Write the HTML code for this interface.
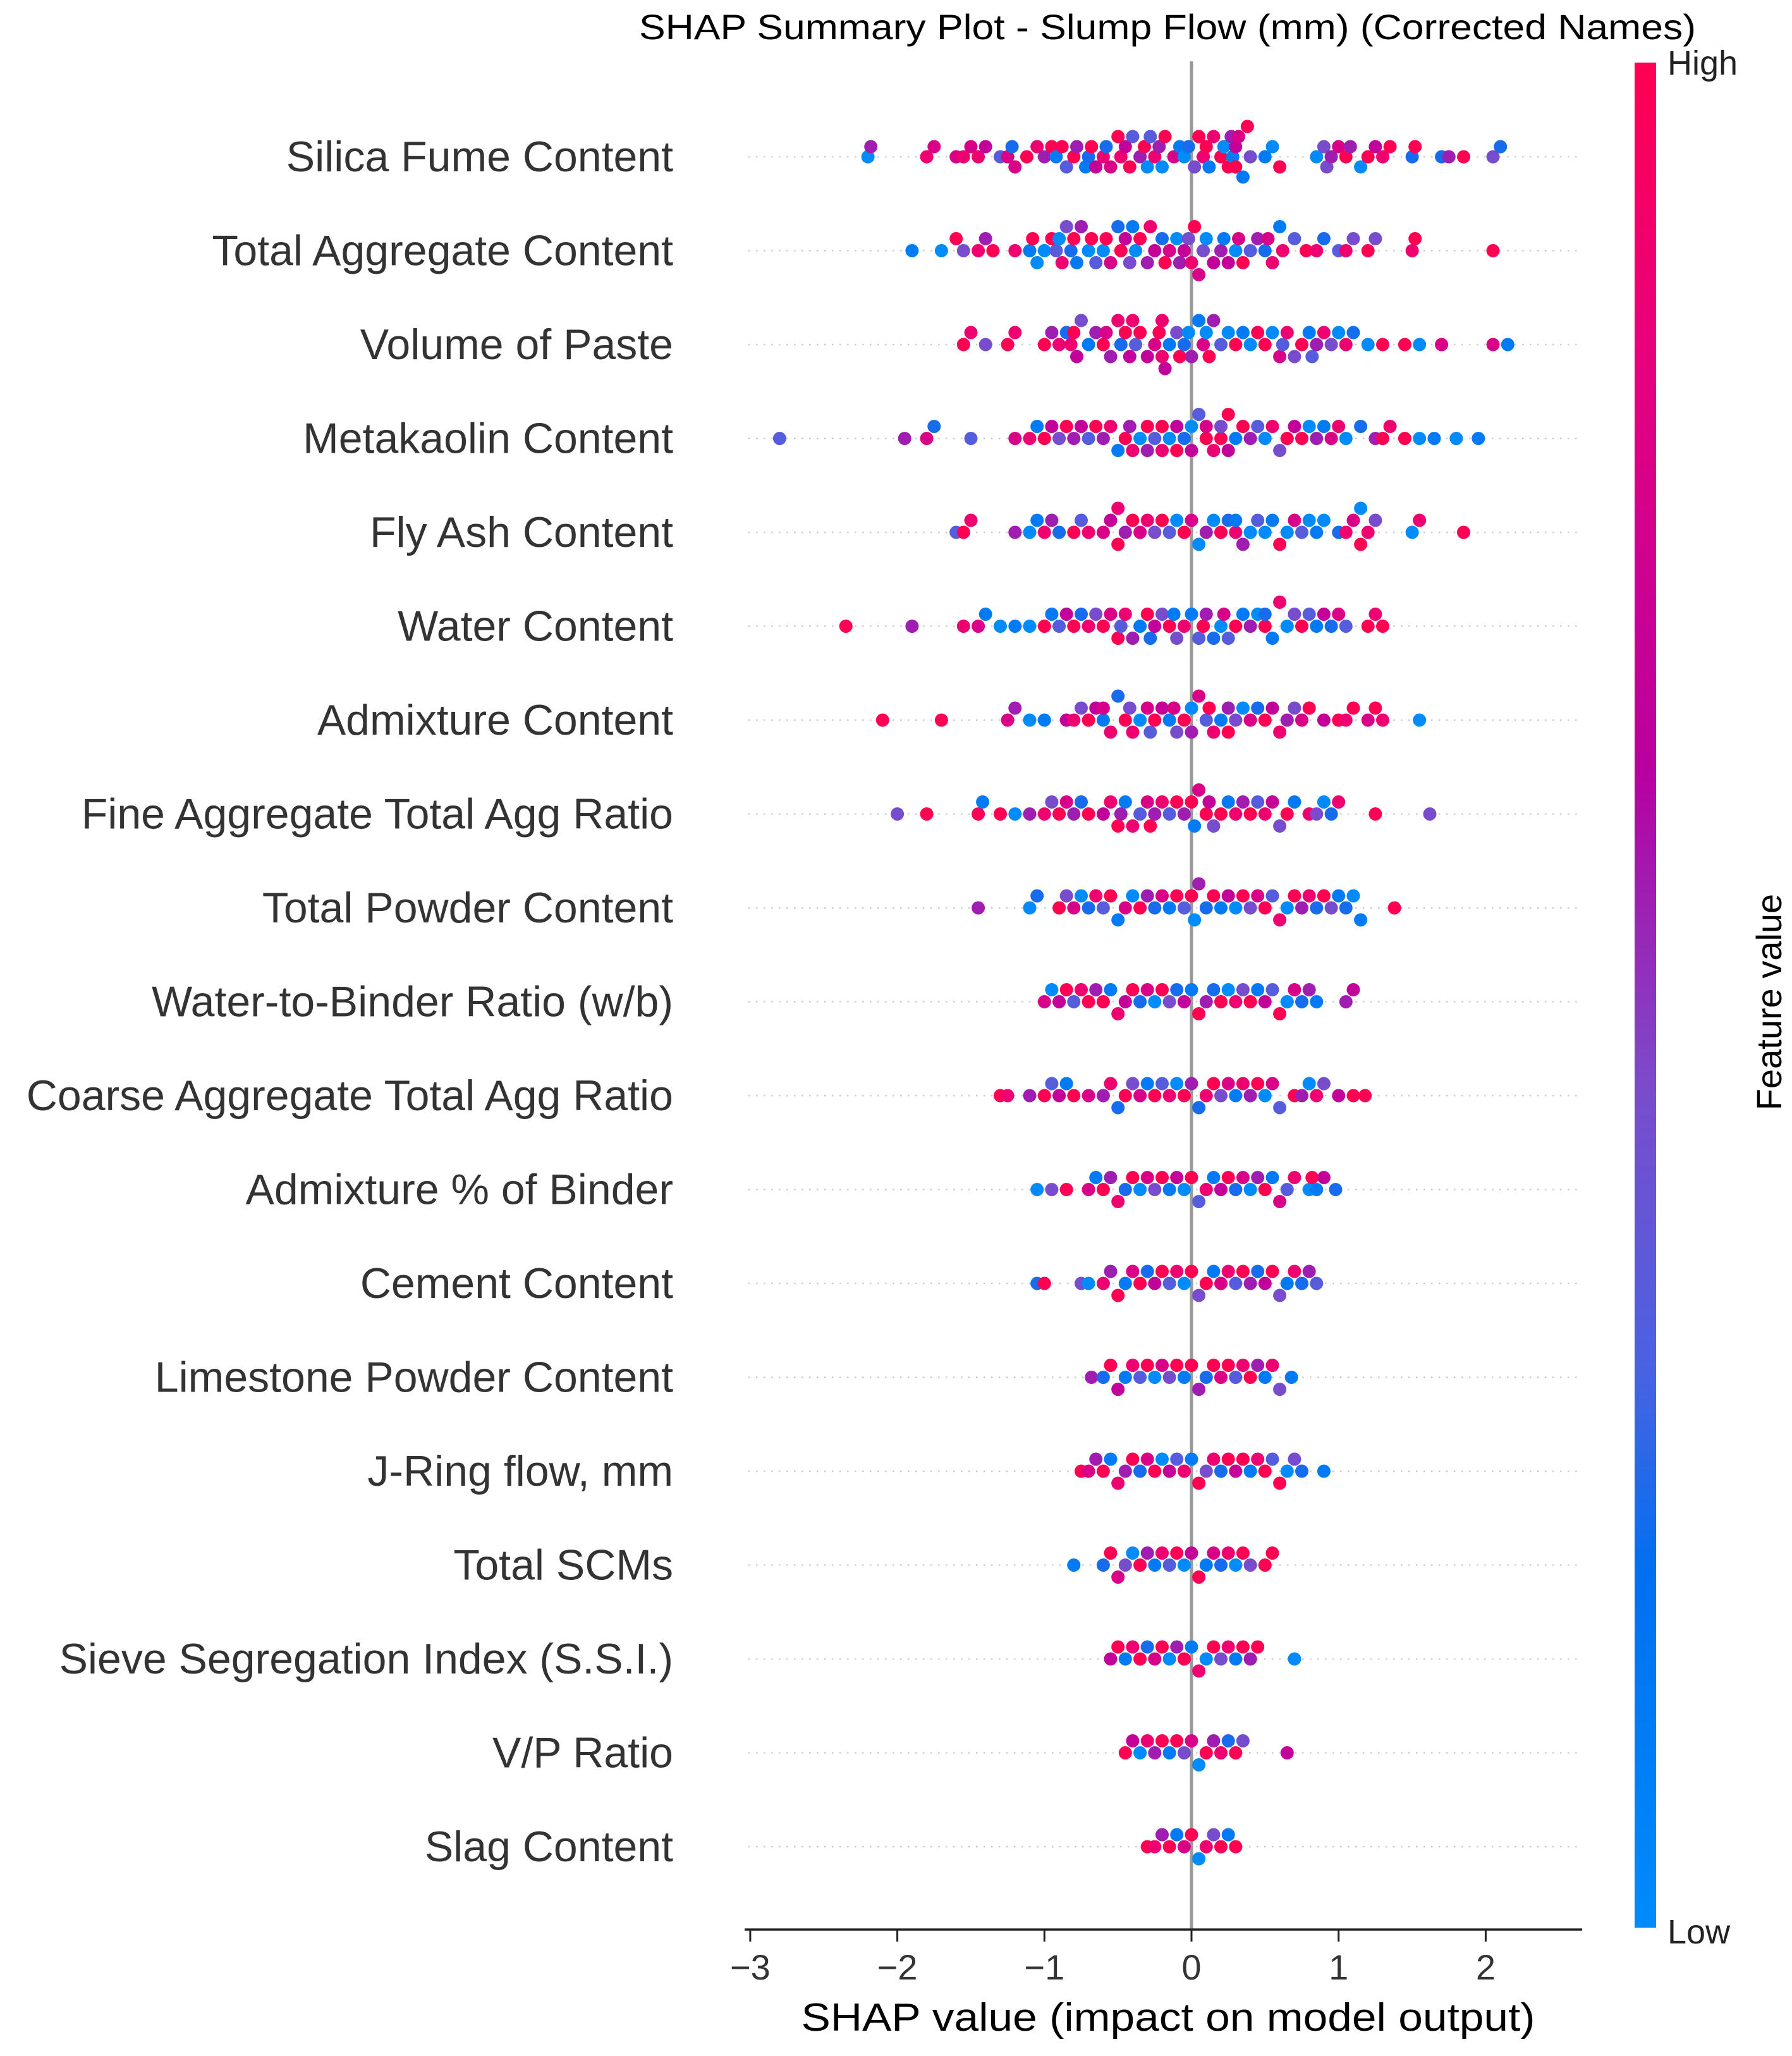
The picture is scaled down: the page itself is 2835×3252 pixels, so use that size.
<!DOCTYPE html>
<html><head><meta charset="utf-8"><style>
html,body{margin:0;padding:0;background:#fff;}
svg{display:block;font-family:"Liberation Sans","DejaVu Sans",sans-serif;}
</style></head><body>
<svg id="chart" width="2835" height="3252" viewBox="0 0 2835 3252" xmlns="http://www.w3.org/2000/svg">
<defs>
<linearGradient id="cbar" x1="0" y1="1" x2="0" y2="0">
<stop offset="0" stop-color="#008bfb"/><stop offset="0.19" stop-color="#0070f0"/><stop offset="0.3" stop-color="#4a62e2"/><stop offset="0.45" stop-color="#7a4ccc"/><stop offset="0.62" stop-color="#b800a0"/><stop offset="0.85" stop-color="#e8007c"/><stop offset="1" stop-color="#ff0052"/>
</linearGradient>
</defs>
<text x="1847" y="62" font-size="56" text-anchor="middle" fill="#000" textLength="1672" lengthAdjust="spacingAndGlyphs">SHAP Summary Plot - Slump Flow (mm) (Corrected Names)</text>
<g id="rowlines"></g>
<line x1="1885" y1="97" x2="1885" y2="3052" stroke="#999" stroke-width="5"/>
<g id="dots"></g>
<g id="labels"></g>
<g id="xaxis"></g>
<text x="1848" y="3212" font-size="62" text-anchor="middle" fill="#000" textLength="1161" lengthAdjust="spacingAndGlyphs">SHAP value (impact on model output)</text>
<rect x="2586" y="99" width="34" height="2950" fill="url(#cbar)"/>
<text x="2638" y="118" font-size="54" fill="#222">High</text>
<text x="2638" y="3074" font-size="54" fill="#222">Low</text>
<text x="0" y="0" font-size="56" fill="#000" text-anchor="middle" transform="translate(2818,1585) rotate(-90)">Feature value</text>
</svg>
<script>
const features = ["Silica Fume Content","Total Aggregate Content","Volume of Paste","Metakaolin Content","Fly Ash Content","Water Content","Admixture Content","Fine Aggregate Total Agg Ratio","Total Powder Content","Water-to-Binder Ratio (w/b)","Coarse Aggregate Total Agg Ratio","Admixture % of Binder","Cement Content","Limestone Powder Content","J-Ring flow, mm","Total SCMs","Sieve Segregation Index (S.S.I.)","V/P Ratio","Slag Content"];
const xTicks = [-3,-2,-1,0,1,2];
const xTickLabels = ["\u22123","\u22122","\u22121","0","1","2"];
// each point: [shap value, feature value 0..9]
const silicaFume = [[-2.2,0],[-2.18,5],[-1.8,8],[-1.75,7],[-1.6,7],[-1.55,8],[-1.5,7],[-1.45,8],[-1.4,6],[-1.3,3],[-1.25,7],[-1.22,2],[-1.2,7],[-1.12,9],[-1.05,8],[-1.0,5],[-0.95,9],[-0.92,1],[-0.88,9],[-0.85,3],[-0.8,9],[-0.78,5],[-0.72,1],[-0.7,2],[-0.68,9],[-0.65,6],[-0.6,8],[-0.58,2],[-0.55,7],[-0.5,9],[-0.48,8],[-0.45,6],[-0.42,9],[-0.4,3],[-0.35,5],[-0.32,9],[-0.3,0],[-0.28,3],[-0.25,8],[-0.22,5],[-0.2,0],[-0.18,9],[-0.12,7],[-0.08,1],[-0.05,0],[-0.02,2],[0.02,4],[0.05,9],[0.08,8],[0.1,9],[0.12,1],[0.15,8],[0.2,9],[0.22,0],[0.25,9],[0.27,5],[0.28,1],[0.3,6],[0.3,9],[0.32,7],[0.35,1],[0.38,9],[0.4,4],[0.5,1],[0.55,0],[0.6,9],[0.85,0],[0.9,4],[0.92,4],[0.95,5],[1.0,7],[1.05,9],[1.08,5],[1.15,0],[1.2,9],[1.25,6],[1.3,8],[1.35,9],[1.5,2],[1.52,9],[1.7,2],[1.75,5],[1.85,9],[2.05,4],[2.1,2]];
const totalAggregate = [[-1.9,1],[-1.7,0],[-1.6,9],[-1.55,4],[-1.45,8],[-1.4,5],[-1.35,9],[-1.2,8],[-1.1,1],[-1.08,9],[-1.05,0],[-1.0,0],[-0.95,9],[-0.92,3],[-0.9,0],[-0.88,8],[-0.85,4],[-0.82,2],[-0.8,9],[-0.78,1],[-0.75,5],[-0.7,0],[-0.68,9],[-0.65,3],[-0.6,0],[-0.58,9],[-0.55,7],[-0.5,2],[-0.48,9],[-0.45,6],[-0.42,4],[-0.4,1],[-0.38,0],[-0.35,9],[-0.3,5],[-0.28,8],[-0.25,6],[-0.2,2],[-0.18,9],[-0.15,7],[-0.1,0],[-0.08,5],[-0.05,6],[-0.02,4],[0,8],[0.02,9],[0.05,7],[0.08,4],[0.1,0],[0.15,6],[0.2,5],[0.22,1],[0.25,6],[0.3,0],[0.32,7],[0.35,9],[0.4,3],[0.45,5],[0.5,2],[0.52,7],[0.55,8],[0.6,1],[0.62,8],[0.7,3],[0.78,9],[0.85,8],[0.9,2],[1.0,3],[1.05,8],[1.1,4],[1.2,9],[1.25,4],[1.5,8],[1.52,9],[2.05,9]];
const volumePaste = [[-1.55,9],[-1.5,8],[-1.4,4],[-1.25,9],[-1.2,8],[-1.0,9],[-0.95,5],[-0.9,8],[-0.85,2],[-0.82,8],[-0.8,9],[-0.78,6],[-0.75,4],[-0.7,1],[-0.65,5],[-0.6,9],[-0.58,7],[-0.55,5],[-0.5,8],[-0.48,2],[-0.45,9],[-0.42,6],[-0.4,8],[-0.38,3],[-0.35,9],[-0.3,6],[-0.25,7],[-0.22,9],[-0.2,8],[-0.2,8],[-0.18,6],[-0.15,1],[-0.1,4],[-0.08,9],[-0.05,2],[-0.02,0],[0,5],[0.05,1],[0.08,7],[0.1,0],[0.12,9],[0.15,5],[0.2,3],[0.25,0],[0.3,9],[0.35,1],[0.4,0],[0.45,9],[0.5,9],[0.55,0],[0.6,7],[0.62,3],[0.65,8],[0.7,4],[0.75,9],[0.8,1],[0.82,3],[0.85,5],[0.9,8],[0.95,4],[1.0,0],[1.05,8],[1.1,2],[1.2,0],[1.3,9],[1.45,9],[1.55,0],[1.7,7],[2.05,7],[2.15,1]];
const metakaolin = [[-2.8,3],[-1.95,5],[-1.8,7],[-1.75,2],[-1.5,3],[-1.2,7],[-1.1,8],[-1.05,1],[-1.0,9],[-0.95,6],[-0.9,4],[-0.85,9],[-0.8,5],[-0.75,6],[-0.7,3],[-0.65,9],[-0.6,5],[-0.55,8],[-0.5,1],[-0.45,9],[-0.42,5],[-0.4,8],[-0.35,0],[-0.3,9],[-0.3,5],[-0.25,3],[-0.2,9],[-0.2,8],[-0.15,0],[-0.1,6],[-0.1,9],[-0.05,2],[0,0],[0,6],[0.05,3],[0.1,9],[0.1,7],[0.15,8],[0.2,9],[0.2,4],[0.25,6],[0.25,9],[0.3,1],[0.35,9],[0.4,5],[0.45,3],[0.5,0],[0.55,8],[0.6,4],[0.65,9],[0.7,6],[0.75,9],[0.8,0],[0.85,5],[0.9,1],[0.95,7],[1.0,8],[1.05,0],[1.15,2],[1.25,5],[1.3,9],[1.35,8],[1.45,9],[1.55,0],[1.65,1],[1.8,0],[1.95,1]];
const flyAsh = [[-1.6,3],[-1.55,9],[-1.5,8],[-1.2,5],[-1.1,0],[-1.05,1],[-1.0,8],[-0.95,5],[-0.9,2],[-0.8,9],[-0.75,3],[-0.7,8],[-0.6,7],[-0.55,6],[-0.5,9],[-0.5,8],[-0.45,5],[-0.4,9],[-0.35,7],[-0.3,8],[-0.25,4],[-0.2,9],[-0.15,3],[-0.1,0],[-0.05,9],[0,7],[0.05,0],[0.1,5],[0.15,0],[0.2,9],[0.25,2],[0.3,8],[0.3,1],[0.35,5],[0.4,0],[0.45,3],[0.5,0],[0.55,1],[0.6,9],[0.65,0],[0.7,7],[0.75,3],[0.8,0],[0.85,1],[0.9,0],[1.0,2],[1.05,8],[1.1,7],[1.15,9],[1.15,0],[1.2,8],[1.25,4],[1.5,0],[1.55,8],[1.85,9]];
const water = [[-2.35,9],[-1.9,5],[-1.55,8],[-1.45,7],[-1.4,1],[-1.3,0],[-1.2,1],[-1.1,0],[-1.0,9],[-0.95,1],[-0.9,3],[-0.85,6],[-0.8,9],[-0.75,2],[-0.7,8],[-0.65,4],[-0.6,9],[-0.55,7],[-0.5,9],[-0.48,3],[-0.45,8],[-0.4,5],[-0.35,1],[-0.3,9],[-0.28,2],[-0.25,6],[-0.2,4],[-0.15,9],[-0.12,1],[-0.1,4],[-0.05,8],[0,1],[0.05,3],[0.08,9],[0.1,5],[0.15,2],[0.2,0],[0.22,7],[0.25,3],[0.3,9],[0.35,1],[0.4,5],[0.45,0],[0.5,9],[0.5,2],[0.55,1],[0.6,8],[0.65,0],[0.7,4],[0.75,9],[0.8,3],[0.85,1],[0.9,6],[0.95,2],[1.0,7],[1.05,3],[1.2,9],[1.25,8],[1.3,9]];
const admixture = [[-2.1,9],[-1.7,9],[-1.25,7],[-1.2,5],[-1.1,0],[-1.0,1],[-0.85,6],[-0.8,8],[-0.75,4],[-0.7,9],[-0.65,6],[-0.6,1],[-0.6,7],[-0.55,8],[-0.5,2],[-0.45,9],[-0.42,4],[-0.4,8],[-0.35,0],[-0.3,7],[-0.28,3],[-0.25,9],[-0.2,6],[-0.15,1],[-0.12,7],[-0.1,4],[-0.05,9],[0,0],[0,5],[0.05,7],[0.1,3],[0.12,9],[0.15,8],[0.2,1],[0.25,5],[0.25,9],[0.3,4],[0.35,0],[0.4,7],[0.45,2],[0.5,9],[0.55,6],[0.6,8],[0.65,5],[0.7,4],[0.75,7],[0.8,9],[0.9,6],[1.0,9],[1.05,8],[1.1,9],[1.2,7],[1.25,9],[1.3,8],[1.55,0]];
const fineAggRatio = [[-2.0,4],[-1.8,9],[-1.45,9],[-1.42,1],[-1.3,9],[-1.2,0],[-1.1,5],[-1.0,8],[-0.95,4],[-0.9,9],[-0.85,7],[-0.8,5],[-0.75,2],[-0.7,9],[-0.6,6],[-0.55,8],[-0.5,9],[-0.48,5],[-0.45,1],[-0.4,8],[-0.35,3],[-0.3,7],[-0.28,9],[-0.25,5],[-0.2,8],[-0.15,3],[-0.1,9],[-0.05,5],[0,9],[0.02,1],[0.05,7],[0.1,9],[0.12,6],[0.15,4],[0.2,9],[0.25,1],[0.3,8],[0.35,5],[0.4,9],[0.45,3],[0.5,8],[0.55,6],[0.6,4],[0.65,9],[0.7,1],[0.8,8],[0.85,4],[0.9,0],[0.95,2],[1.0,8],[1.25,9],[1.62,4]];
const totalPowder = [[-1.45,5],[-1.1,0],[-1.05,2],[-0.9,9],[-0.85,4],[-0.8,7],[-0.75,0],[-0.7,2],[-0.65,8],[-0.6,3],[-0.55,9],[-0.5,1],[-0.45,7],[-0.4,0],[-0.35,9],[-0.3,5],[-0.25,2],[-0.2,7],[-0.15,1],[-0.1,9],[-0.05,3],[0,9],[0.02,0],[0.05,5],[0.1,2],[0.15,9],[0.2,1],[0.25,6],[0.3,0],[0.35,9],[0.4,4],[0.45,7],[0.5,9],[0.55,3],[0.6,8],[0.65,0],[0.7,9],[0.75,5],[0.8,8],[0.85,2],[0.9,9],[0.95,4],[1.0,1],[1.05,2],[1.1,0],[1.15,1],[1.38,9]];
const waterBinder = [[-1.0,7],[-0.95,0],[-0.9,6],[-0.85,9],[-0.8,3],[-0.75,8],[-0.7,9],[-0.65,5],[-0.6,9],[-0.55,1],[-0.5,8],[-0.45,6],[-0.4,9],[-0.35,2],[-0.3,7],[-0.25,0],[-0.2,9],[-0.15,4],[-0.1,2],[-0.05,6],[0,1],[0.05,9],[0.1,5],[0.15,2],[0.2,9],[0.25,0],[0.3,8],[0.35,4],[0.4,9],[0.45,1],[0.5,6],[0.55,3],[0.6,9],[0.65,0],[0.7,7],[0.75,2],[0.8,5],[0.85,1],[1.05,5],[1.1,6]];
const coarseAggRatio = [[-1.3,9],[-1.25,8],[-1.1,5],[-1.0,9],[-0.95,3],[-0.9,6],[-0.85,1],[-0.8,9],[-0.7,7],[-0.6,5],[-0.55,8],[-0.5,2],[-0.45,9],[-0.4,4],[-0.35,7],[-0.3,1],[-0.25,9],[-0.2,3],[-0.15,8],[-0.1,0],[-0.05,9],[0,5],[0.05,2],[0.1,8],[0.15,9],[0.2,4],[0.25,7],[0.3,1],[0.35,8],[0.4,5],[0.45,9],[0.5,0],[0.55,7],[0.6,3],[0.7,9],[0.75,5],[0.8,0],[0.85,8],[0.9,4],[1.0,6],[1.1,9],[1.18,9]];
const admixturePct = [[-1.05,0],[-0.95,4],[-0.85,9],[-0.7,7],[-0.65,1],[-0.6,9],[-0.55,5],[-0.5,8],[-0.45,2],[-0.4,9],[-0.35,0],[-0.3,7],[-0.25,4],[-0.2,9],[-0.15,1],[-0.1,6],[-0.05,0],[0,9],[0.05,3],[0.1,8],[0.15,1],[0.2,6],[0.25,9],[0.3,2],[0.35,7],[0.4,0],[0.45,5],[0.5,9],[0.55,1],[0.6,7],[0.65,3],[0.7,8],[0.8,0],[0.82,9],[0.85,1],[0.9,6],[0.98,2]];
const cement = [[-1.05,2],[-1.0,9],[-0.75,4],[-0.7,0],[-0.6,8],[-0.55,5],[-0.5,9],[-0.45,1],[-0.4,7],[-0.35,9],[-0.3,2],[-0.25,6],[-0.2,9],[-0.15,3],[-0.1,8],[-0.05,0],[0,9],[0.05,4],[0.1,9],[0.15,1],[0.2,7],[0.25,8],[0.3,3],[0.35,9],[0.4,5],[0.45,2],[0.5,6],[0.55,9],[0.6,4],[0.65,1],[0.7,8],[0.75,2],[0.8,5],[0.85,3]];
const limestone = [[-0.68,5],[-0.6,2],[-0.55,9],[-0.5,6],[-0.45,1],[-0.4,8],[-0.35,3],[-0.3,9],[-0.25,0],[-0.2,7],[-0.15,4],[-0.1,9],[-0.05,1],[0,9],[0.05,5],[0.1,2],[0.15,9],[0.2,7],[0.25,9],[0.3,3],[0.35,8],[0.4,9],[0.45,5],[0.5,1],[0.55,8],[0.6,4],[0.68,1]];
const jRing = [[-0.75,9],[-0.7,7],[-0.65,5],[-0.6,9],[-0.55,1],[-0.5,8],[-0.45,5],[-0.4,9],[-0.35,2],[-0.3,7],[-0.25,9],[-0.2,0],[-0.15,6],[-0.1,3],[-0.05,8],[0,1],[0.05,9],[0.1,4],[0.15,8],[0.2,2],[0.25,9],[0.3,6],[0.35,9],[0.4,1],[0.45,8],[0.5,9],[0.55,3],[0.6,9],[0.65,0],[0.7,4],[0.75,2],[0.9,1]];
const totalSCMs = [[-0.8,1],[-0.6,2],[-0.55,9],[-0.5,7],[-0.45,4],[-0.4,0],[-0.35,9],[-0.3,5],[-0.25,1],[-0.2,8],[-0.15,3],[-0.1,9],[-0.05,0],[0,6],[0.05,9],[0.1,1],[0.15,7],[0.2,2],[0.25,8],[0.3,0],[0.35,9],[0.4,4],[0.5,9],[0.55,9]];
const sieveSegregation = [[-0.55,6],[-0.5,9],[-0.45,1],[-0.4,8],[-0.35,9],[-0.3,2],[-0.25,7],[-0.2,9],[-0.15,0],[-0.1,5],[-0.05,9],[0,1],[0.05,8],[0.1,0],[0.15,9],[0.2,4],[0.25,8],[0.3,1],[0.35,9],[0.4,5],[0.45,9],[0.7,0]];
const vpRatio = [[-0.45,9],[-0.4,6],[-0.35,0],[-0.3,8],[-0.25,5],[-0.2,9],[-0.15,1],[-0.1,9],[-0.05,4],[0,7],[0.05,0],[0.1,9],[0.15,5],[0.2,8],[0.25,2],[0.3,9],[0.35,4],[0.65,6]];
const slag = [[-0.3,9],[-0.25,8],[-0.2,5],[-0.15,9],[-0.1,1],[-0.05,7],[0,9],[0.05,0],[0.1,8],[0.15,4],[0.2,9],[0.25,1],[0.3,9]];
const rowsData = [silicaFume,totalAggregate,volumePaste,metakaolin,flyAsh,water,admixture,fineAggRatio,totalPowder,waterBinder,coarseAggRatio,admixturePct,cement,limestone,jRing,totalSCMs,sieveSegregation,vpRatio,slag];

const NS = "http://www.w3.org/2000/svg";
const X0 = 1885, UNIT = 232.7, Y0 = 248, ROWH = 148.5, R = 10.5;
function xScale(v){ return X0 + v*UNIT; }
function yRow(i){ return Y0 + i*ROWH; }
const stops = [[0,[0,139,251]],[0.19,[0,112,240]],[0.3,[74,98,226]],[0.45,[122,76,204]],[0.62,[184,0,160]],[0.85,[232,0,124]],[1,[255,0,82]]];
function colorFor(t){
  for (let k=1;k<stops.length;k++){
    if (t<=stops[k][0]){
      const a=stops[k-1],b=stops[k],f=(t-a[0])/(b[0]-a[0]);
      const c=a[1].map((v,j)=>Math.round(v+(b[1][j]-v)*f));
      return "rgb("+c.join(",")+")";
    }
  }
  return "rgb(255,0,82)";
}
function mk(tag, attrs){ const e=document.createElementNS(NS,tag); for(const k in attrs) e.setAttribute(k,attrs[k]); return e; }

const gLines=document.getElementById("rowlines"), gDots=document.getElementById("dots"), gLab=document.getElementById("labels"), gAx=document.getElementById("xaxis");
features.forEach((name,i)=>{
  const y=yRow(i);
  const ln=mk("line",{x1:1184,y1:y,x2:2503,y2:y,stroke:"#ccc","stroke-width":2.5,"stroke-dasharray":"2.5 9.5"});
  
  
  gLines.appendChild(ln);
  const t=mk("text",{x:1065,y:y+23,"font-size":68,"text-anchor":"end",fill:"#333"});
  
  
  t.textContent=name;
  gLab.appendChild(t);
  const pts=(rowsData[i]||[]).slice().sort((a,b)=>a[0]-b[0]);
  const BW=0.11;
  let lastBin=null, layer=0; const offs=[];
  pts.forEach(p=>{
    const bin=Math.round(p[0]/BW);
    if(bin!==lastBin) layer=0;
    offs.push(Math.ceil(layer/2)*((layer%2)*2-1));
    layer++; lastBin=bin;
  });
  const maxL=Math.max(1,...offs.map(Math.abs));
  const sp=Math.min(19, 48/maxL);
  pts.forEach((p,k)=>{
    const c=mk("circle",{cx:xScale(p[0]).toFixed(1),cy:(y-offs[k]*sp).toFixed(1),r:R,fill:colorFor(p[1]/9)});
    
    
    gDots.appendChild(c);
  });
});
const axl=mk("line",{x1:1178,y1:3052,x2:2503,y2:3052,stroke:"#222","stroke-width":3.5});


gAx.appendChild(axl);
xTicks.forEach((v,k)=>{
  const x=xScale(v);
  const tk=mk("line",{x1:x,y1:3052,x2:x,y2:3071,stroke:"#222","stroke-width":3});
  
  
  gAx.appendChild(tk);
  const tl=mk("text",{x:x,y:3131,"font-size":56,"text-anchor":"middle",fill:"#333"});
  
  
  tl.textContent=xTickLabels[k];
  gAx.appendChild(tl);
});
</script>
</body></html>
